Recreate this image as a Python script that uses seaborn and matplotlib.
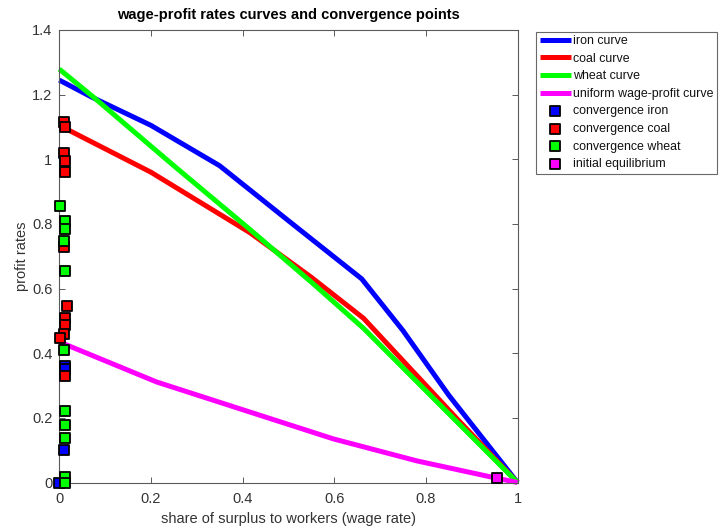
import matplotlib
matplotlib.use("Agg")
import matplotlib.pyplot as plt
import seaborn as sns
import pandas as pd

# ---- data ----
iron_w = [0, 0.07, 0.2, 0.35, 0.5, 0.66, 0.75, 0.85, 1.0]
iron_r = [1.245, 1.193, 1.105, 0.98, 0.81, 0.63, 0.47, 0.27, 0.0]

coal_w = [0, 0.2, 0.416, 0.55, 0.664, 0.868, 1.0]
coal_r = [1.105, 0.96, 0.773, 0.635, 0.508, 0.197, 0.0]

wheat_w = [0, 0.074, 0.25, 0.416, 0.55, 0.664, 1.0]
wheat_r = [1.279, 1.193, 0.98, 0.783, 0.62, 0.477, 0.0]

uniform_w = [0, 0.2125, 0.416, 0.598, 0.78, 0.947, 1.0]
uniform_r = [0.435, 0.311, 0.218, 0.135, 0.067, 0.0156, 0.0]

conv_iron_w = [0.012, 0.012, 0.010, 0.0]
conv_iron_r = [0.36, 0.35, 0.10, 0.0]

conv_coal_w = [0.010, 0.012, 0.010, 0.012, 0.012, 0.010, 0.016, 0.012, 0.012, 0.010, 0.002, 0.012]
conv_coal_r = [1.115, 1.10, 1.02, 0.995, 0.96, 0.73, 0.545, 0.51, 0.487, 0.46, 0.447, 0.33]

conv_wheat_w = [0.002, 0.012, 0.012, 0.010, 0.012, 0.010, 0.012, 0.012, 0.012, 0.012, 0.012]
conv_wheat_r = [0.856, 0.81, 0.783, 0.747, 0.655, 0.41, 0.22, 0.177, 0.138, 0.018, 0.0]

init_w = [0.955]
init_r = [0.015]

x_ticks = [0, 0.2, 0.4, 0.6, 0.8, 1.0]
x_tick_labels = ["0", "0.2", "0.4", "0.6", "0.8", "1"]
y_ticks = [0, 0.2, 0.4, 0.6, 0.8, 1.0, 1.2, 1.4]
y_tick_labels = ["0", "0.2", "0.4", "0.6", "0.8", "1", "1.2", "1.4"]

# ---- style ----
sns.set_theme(style="white")
plt.rcParams["font.family"] = ["Liberation Sans", "DejaVu Sans"]

fig = plt.figure(figsize=(7.21, 5.29), dpi=100)
ax = fig.add_axes([0.0822, 0.0879, 0.6356, 0.8554])

LW = 3.6
curves = [
    (iron_w, iron_r, "#0000ff", "iron curve"),
    (coal_w, coal_r, "#ff0000", "coal curve"),
    (wheat_w, wheat_r, "#00ff00", "wheat curve"),
    (uniform_w, uniform_r, "#ff00ff", "uniform wage-profit curve"),
]
for w, r, c, lab in curves:
    df = pd.DataFrame({"w": w, "r": r})
    sns.lineplot(data=df, x="w", y="r", color=c, linewidth=LW, label=lab,
                 ax=ax, sort=False, estimator=None, clip_on=False,
                 solid_capstyle="butt")

points = [
    (conv_iron_w, conv_iron_r, "#0000ff", "convergence iron"),
    (conv_coal_w, conv_coal_r, "#ff0000", "convergence coal"),
    (conv_wheat_w, conv_wheat_r, "#00ff00", "convergence wheat"),
    (init_w, init_r, "#ff00ff", "initial equilibrium"),
]
for w, r, c, lab in points:
    df = pd.DataFrame({"w": w, "r": r})
    sns.scatterplot(data=df, x="w", y="r", color=c, marker="s", s=62,
                    edgecolor="black", linewidth=1.3, label=lab, ax=ax,
                    clip_on=False, zorder=5)

ax.set_xlim(0, 1)
ax.set_ylim(0, 1.4)
ax.set_xticks(x_ticks)
ax.set_xticklabels(x_tick_labels)
ax.set_yticks(y_ticks)
ax.set_yticklabels(y_tick_labels)

axis_col = "#5a5a5a"
text_col = "#333333"
for sp in ax.spines.values():
    sp.set_visible(True)
    sp.set_color(axis_col)
    sp.set_linewidth(0.8)
ax.tick_params(direction="in", top=True, right=True, bottom=True, left=True,
               length=4, width=0.7, color=axis_col, labelcolor=text_col,
               labelsize=10.5)
ax.tick_params(axis="x", pad=7)
ax.tick_params(axis="y", pad=5)

ax.set_xlabel("share of surplus to workers (wage rate)", fontsize=10.5,
              color=text_col, labelpad=4)
ax.set_ylabel("profit rates", fontsize=10.5, color=text_col, labelpad=2)
ax.set_title("wage-profit rates curves and convergence points",
             fontsize=10.5, fontweight="bold", color="black", pad=8)

leg = ax.legend(loc="upper left", bbox_to_anchor=(536 / 721, 1 - 31.5 / 529),
                bbox_transform=fig.transFigure, fontsize=8.9, frameon=True,
                fancybox=False, edgecolor="#444444", handlelength=2.55,
                handletextpad=0.15, labelspacing=0.45, borderpad=0.3,
                borderaxespad=0, scatterpoints=1, markerscale=0.9)
leg.get_frame().set_linewidth(0.8)
for t in leg.get_texts():
    t.set_color("#111111")

fig.savefig("out.png", dpi=100)
